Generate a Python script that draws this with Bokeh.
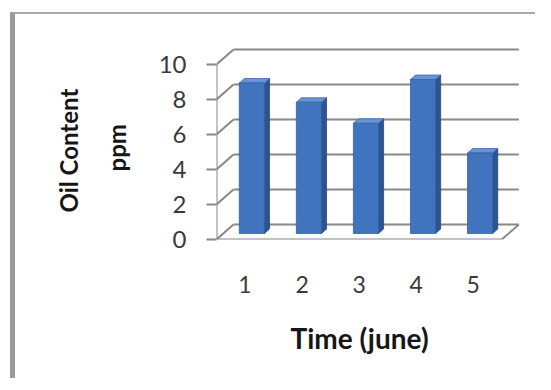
import numpy as np
from bokeh.plotting import figure
from bokeh.models import Range1d, FixedTicker, Title
from bokeh.embed import file_html
from bokeh.resources import INLINE

# ---- data ----
categories = ["1", "2", "3", "4", "5"]
oil_ppm = [8.6, 7.5, 6.3, 8.8, 4.6]
y_ticks = [0, 2, 4, 6, 8, 10]
x_title = "Time (june)"
y_title_lines = ["Oil Content", "ppm"]

# ---- layout (pixels) ----
W, H = 525, 366
ML, MB, MT = 201, 141, 20
PX_CAT, PX_VAL = 57.06, 17.5
x_lo, x_hi = 0.5, len(categories) + 0.5
x_end = x_lo + (W - ML) / PX_CAT
y_end = (H - MB - MT) / PX_VAL
DDX, DDY = 17 / PX_CAT, 15 / PX_VAL   # 3D depth offset
F_FRONT, F_BACK = 0.4, 0.7           # bar depth position
BAR_W = 0.44

p = figure(width=W, height=H, output_backend="svg", toolbar_location=None,
           title=None, x_range=Range1d(x_lo, x_end), y_range=Range1d(0, y_end),
           min_border_left=ML, min_border_bottom=MB, min_border_top=MT,
           min_border_right=0)
p.styles = {"margin-left": "10px", "margin-top": "12px",
            "border-left": "5px solid #9a9a9a", "border-top": "2px solid #a8a8a8"}
p.grid.visible = False
p.outline_line_color = None
p.background_fill_color = "white"
p.border_fill_color = "white"

GRID = "#888888"
LW = 2
top = max(y_ticks)
gt = np.array(y_ticks, dtype=float)
n = len(gt)
# back wall gridlines
p.segment(x0=[x_lo + DDX] * n, y0=gt + DDY, x1=[x_hi + DDX] * n, y1=gt + DDY,
          line_color=GRID, line_width=LW)
# side wall diagonals
p.segment(x0=[x_lo] * n, y0=gt, x1=[x_lo + DDX] * n, y1=gt + DDY,
          line_color=GRID, line_width=LW)
# front vertical axis line, floor front edge, floor right edge
p.segment(x0=[x_lo, x_lo, x_hi], y0=[0, 0, 0], x1=[x_lo, x_hi, x_hi + DDX],
          y1=[top, 0, DDY], line_color=GRID, line_width=LW)

# bars
xc = np.arange(1, len(categories) + 1, dtype=float)
v = np.array(oil_ppm, dtype=float)
fx, fy = F_FRONT * DDX, F_FRONT * DDY
bx, by = (F_BACK - F_FRONT) * DDX, (F_BACK - F_FRONT) * DDY
left = xc - BAR_W / 2 + fx
right = xc + BAR_W / 2 + fx
bottom = np.zeros_like(v) + fy
tops = v + fy

side_xs = [[r, r + bx, r + bx, r] for r in right]
side_ys = [[b, b + by, t + by, t] for b, t in zip(bottom, tops)]
top_xs = [[l, r, r + bx, l + bx] for l, r in zip(left, right)]
top_ys = [[t, t, t + by, t + by] for t in tops]

p.patches(side_xs, side_ys, fill_color="#2c5590", line_color="#27497c", line_width=0.8)
p.patches(top_xs, top_ys, fill_color="#6794d6", line_color="#3d68a8", line_width=0.8)
p.quad(left=left, right=right, bottom=bottom, top=tops,
       fill_color="#4174be", line_color="#365f9e", line_width=0.8)

FONT = "Lato"
# y axis
ya = p.yaxis[0]
ya.ticker = FixedTicker(ticks=y_ticks)
ya.axis_line_color = None
ya.major_tick_in = 0
ya.major_tick_out = 10
ya.major_tick_line_color = GRID
ya.major_tick_line_width = LW
ya.minor_tick_line_color = None
ya.major_label_standoff = 20
ya.major_label_text_font = FONT
ya.major_label_text_font_size = "24px"
ya.major_label_text_color = "#3a3a3a"

# x axis
xa = p.xaxis[0]
xa.ticker = FixedTicker(ticks=list(xc))
xa.major_label_overrides = {float(i): c for i, c in zip(xc, categories)}
xa.axis_line_color = None
xa.major_tick_line_color = None
xa.minor_tick_line_color = None
xa.major_tick_out = 0
xa.major_label_standoff = 36
xa.major_label_text_font = FONT
xa.major_label_text_font_size = "23px"
xa.major_label_text_color = "#3a3a3a"

# axis titles
p.add_layout(Title(text=x_title, align="left", offset=74, standoff=46,
                   text_font=FONT, text_font_style="bold", text_font_size="28px",
                   text_color="#161616"), "below")
p.add_layout(Title(text=y_title_lines[1], align="left", offset=68, standoff=50,
                   text_font=FONT, text_font_style="bold", text_font_size="24px",
                   text_color="#161616"), "left")
p.add_layout(Title(text=y_title_lines[0], align="left", offset=27, standoff=-16,
                   text_font=FONT, text_font_style="bold", text_font_size="24px",
                   text_color="#161616"), "left")

open("out.html", "w").write(file_html(p, INLINE))
